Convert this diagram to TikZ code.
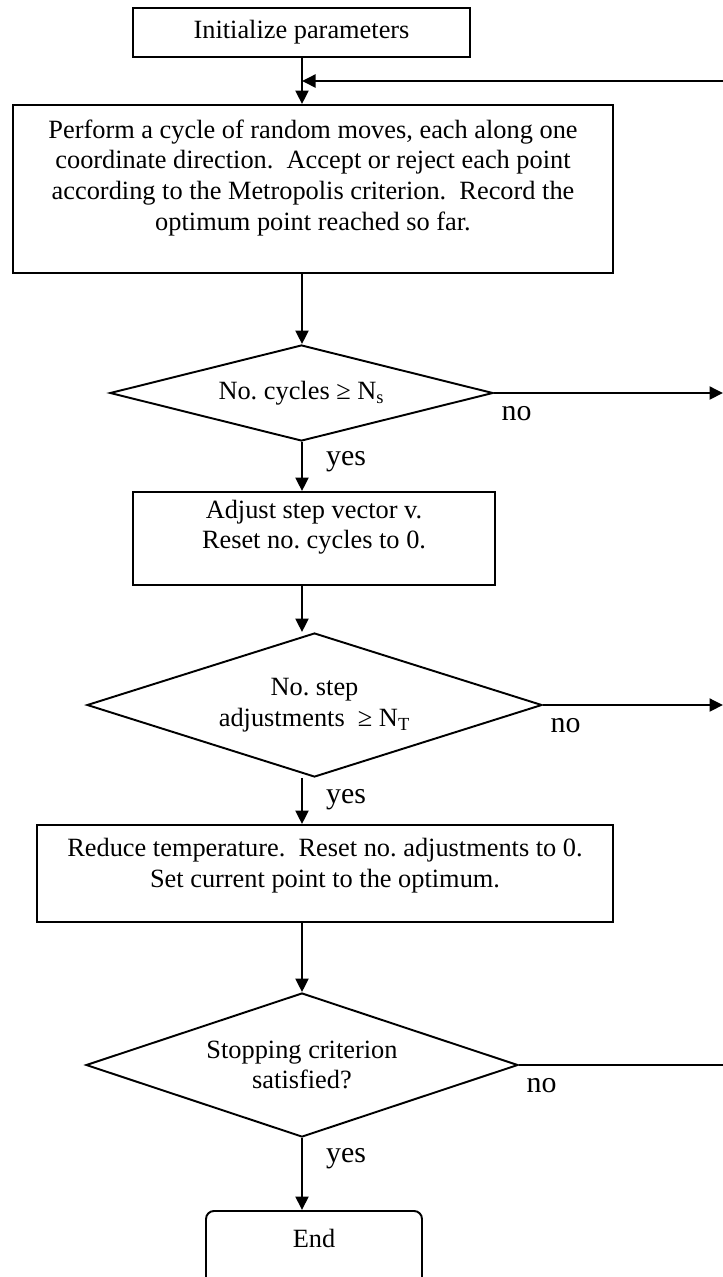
\documentclass[tikz,border=0pt]{standalone}
\usepackage{fontspec}
\setmainfont{Liberation Serif}
\usetikzlibrary{shapes.geometric, arrows.meta, positioning}

\begin{document}
\frenchspacing
\begin{tikzpicture}[
        every node/.style={font=\fontsize{15}{17.5}\selectfont},
        process/.style={rectangle, draw=black, line width=1.1pt, fill=white, align=center, inner sep=0pt},
        decision/.style={diamond, draw=black, line width=1.1pt, fill=white, align=center, inner sep=0pt, aspect=3},
        terminal/.style={rectangle, draw=black, line width=1.1pt, fill=white, align=center, rounded corners=0.16cm},
        arrow/.style={-{Triangle[length=0.27cm, width=0.26cm]}, line width=1.1pt, draw=black},
        link/.style={line width=1.1pt, draw=black},
        yeslabel/.style={right, xshift=0.43cm, inner sep=1pt, font=\fontsize{17}{20}\selectfont},
        nolabel/.style={anchor=north west, xshift=0.1cm, yshift=-0.22cm, inner sep=1pt, font=\fontsize{17}{20}\selectfont}
        ]
        \useasboundingbox (0,0) rectangle (14.46,-25.54);
        \clip (0,0) rectangle (14.46,-25.54);

        % Guide lines: the arrow column and the right edge
        \coordinate (spine) at (6.04, 0);
        \coordinate (rim) at (14.46, 0);
        \coordinate (back) at (14.46, -1.62);

        % Boxes and decisions, top to bottom
        \node[process, minimum width=6.74cm, minimum height=0.98cm] (init) at (6.03, -0.65) {Initialize parameters};
        \node[process, minimum width=12cm, minimum height=3.36cm, text depth=15.9pt] (cycle) at (6.26, -3.78) {Perform a cycle of random moves, each along one\\coordinate direction.~ Accept or reject each point\\according to the Metropolis criterion.~ Record the\\optimum point reached so far.};
        \node[decision, minimum width=7.66cm, minimum height=1.92cm] (cycles) at (6.03, -7.86) {No. cycles ≥ N\textsubscript{s}};
        \node[process, minimum width=7.24cm, minimum height=1.86cm, text depth=16pt] (adjust) at (6.28, -10.77) {Adjust step vector v.\\Reset no. cycles to 0.};
        \node[decision, minimum width=9.1cm, minimum height=2.88cm] (steps) at (6.29, -14.10) {No. step\\adjustments~~≥ N\textsubscript{T}};
        \node[process, minimum width=11.52cm, minimum height=1.94cm, text depth=12.5pt] (reduce) at (6.50, -17.47) {Reduce temperature.~ Reset no. adjustments to 0.\\Set current point to the optimum.};
        \node[decision, minimum width=8.64cm, minimum height=2.88cm] (stop) at (6.04, -21.30) {Stopping criterion\\satisfied?};
        \node[terminal, anchor=north, minimum width=4.32cm, minimum height=2cm, text depth=26pt] (end) at (6.28, -24.20) {End};

        % Main flow
        \draw[arrow] (init.south -| spine) -- (cycle.north -| spine);
        \draw[arrow] (back) -- (back -| spine);
        \draw[arrow] (cycle.south -| spine) -- (cycles.north -| spine);
        \draw[arrow] (cycles.south -| spine) -- node[yeslabel, pos=0.41] {yes} (adjust.north -| spine);
        \draw[arrow] (adjust.south -| spine) -- (steps.north -| spine);
        \draw[arrow] (steps.south -| spine) -- node[yeslabel, pos=0.48] {yes} (reduce.north -| spine);
        \draw[arrow] (reduce.south -| spine) -- (stop.north -| spine);
        \draw[arrow] (stop.south -| spine) -- node[yeslabel, pos=0.29] {yes} (end.north -| spine);

        % Branches leaving to the right
        \draw[arrow] (cycles.east) -- node[nolabel, pos=0] {no} (cycles.east -| rim);
        \draw[arrow] (steps.east) -- node[nolabel, pos=0] {no} (steps.east -| rim);
        \draw[link] (stop.east) -- node[nolabel, pos=0] {no} (stop.east -| rim);

    \end{tikzpicture}
\end{document}
